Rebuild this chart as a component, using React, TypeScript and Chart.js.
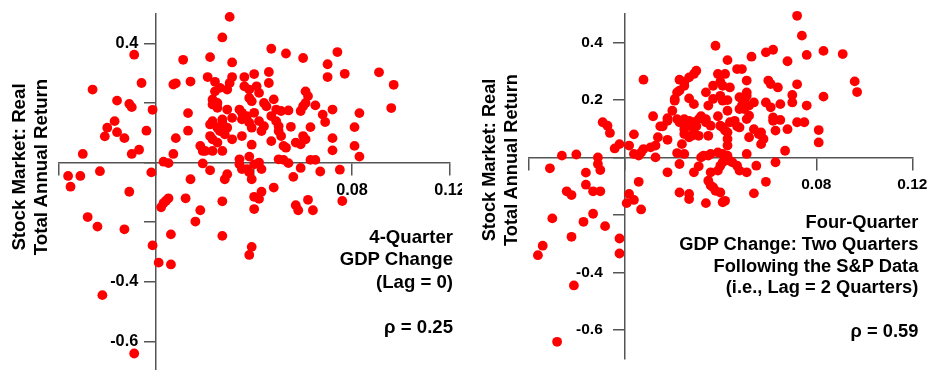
import React, { useEffect, useRef } from 'react';
import { Chart, registerables } from 'chart.js';

Chart.register(...registerables);

// ---- Left panel: 4-quarter GDP change (lag 0) vs. real stock return ----
const leftGdp = [
  -0.009, -0.026, -0.006, -0.016, -0.011, -0.010, -0.0015, -0.017, -0.020, -0.016,
  -0.021, -0.013, -0.004, -0.030, -0.010, -0.007, -0.036, -0.031, -0.035, -0.023,
  -0.002, -0.011, -0.028, -0.024, -0.013, -0.0015, -0.022, -0.009,
  0.011, 0.007, 0.008, 0.014, 0.021, 0.022, 0.027, 0.030, 0.031, 0.013,
  0.013, 0.008, 0.007, 0.003, 0.005,
  0.047, 0.053, 0.060, 0.074, 0.070, 0.070, 0.046, 0.046, 0.040, 0.036,
  0.031, 0.091, 0.097, 0.077,
  0.024, 0.026, 0.024, 0.029, 0.030, 0.036, 0.038, 0.041, 0.042, 0.061,
  0.062, 0.023, 0.025, 0.023, 0.025, 0.029, 0.034, 0.035, 0.038, 0.039,
  0.040, 0.044, 0.045, 0.048, 0.049, 0.051, 0.054, 0.060, 0.061, 0.059,
  0.065, 0.068, 0.069, 0.072, 0.023, 0.022, 0.027, 0.027, 0.025, 0.026,
  0.029, 0.031, 0.035, 0.037, 0.038, 0.039, 0.042, 0.044, 0.043, 0.047,
  0.049, 0.050, 0.050, 0.051, 0.055, 0.063, 0.060, 0.022, 0.023, 0.028,
  0.031, 0.035, 0.072, 0.018, 0.019, 0.020, 0.023, 0.025, 0.027, 0.039,
  0.047, 0.052, 0.053, 0.057, 0.059, 0.061, 0.072, 0.019, 0.022, 0.034,
  0.034, 0.035, 0.038, 0.040, 0.042, 0.043, 0.037, 0.038, 0.050, 0.052,
  0.054, 0.059, 0.063, 0.065, 0.067, 0.056, 0.029, 0.028, 0.014, 0.039,
  0.048, 0.081, 0.083, 0.081, 0.083, 0.096, 0.075, 0.076,
  0.005, 0.004, 0.003, 0.002, 0.012, 0.018, 0.016, 0.006, 0.027, 0.027,
  0.039, 0.038, 0.040, 0.040, 0.042, 0.043, 0.057, 0.058, 0.062, 0.064,
  0.001, 0.006,
];
const leftReturn = [
  0.362, 0.245, 0.267, 0.208, 0.197, 0.186, 0.177, 0.139, 0.117, 0.102,
  0.088, 0.082, 0.107, 0.029, 0.029, 0.043, -0.045, -0.045, -0.081, -0.029,
  -0.033, -0.098, -0.183, -0.215, -0.224, -0.278, -0.445, -0.641,
  0.345, 0.262, 0.266, 0.272, 0.287, 0.354, 0.420, 0.489, 0.336, 0.166,
  0.107, 0.082, 0.029, 0.003, -0.002,
  0.382, 0.366, 0.351, 0.371, 0.330, 0.287, 0.304, 0.267, 0.297, 0.287,
  0.287, 0.303, 0.261, 0.298,
  0.271, 0.251, 0.239, 0.245, 0.267, 0.256, 0.245, 0.256, 0.234, 0.239,
  0.223, 0.212, 0.200, 0.195, 0.184, 0.178, 0.178, 0.167, 0.217, 0.206,
  0.167, 0.200, 0.189, 0.212, 0.178, 0.173, 0.175, 0.189, 0.200, 0.173,
  0.192, 0.161, 0.136, 0.178, 0.139, 0.128, 0.145, 0.134, 0.117, 0.106,
  0.117, 0.150, 0.145, 0.156, 0.134, 0.117, 0.139, 0.122, 0.106, 0.156,
  0.139, 0.122, 0.106, 0.089, 0.120, 0.119, 0.089, 0.089, 0.078, 0.095,
  0.078, 0.089, 0.082, 0.056, 0.039, 0.039, 0.039, 0.067, 0.039, 0.060,
  0.072, 0.056, 0.050, 0.067, 0.061, 0.078, 0.041, -0.003, -0.026, 0.011,
  -0.006, -0.022, 0.020, -0.006, 0.000, -0.022, -0.022, -0.033, 0.011, 0.009,
  -0.002, -0.018, 0.009, 0.009, -0.030, -0.048, -0.039, -0.056, -0.056, -0.056,
  -0.084, 0.119, 0.166, 0.056, 0.020, 0.183, -0.024, -0.129,
  -0.120, -0.128, -0.136, -0.150, -0.120, -0.160, -0.198, -0.241, -0.246, -0.130,
  -0.283, -0.310, -0.156, -0.115, -0.122, -0.098, -0.143, -0.160, -0.125, -0.160,
  -0.336, -0.342,
];

// ---- Right panel: GDP change two quarters after the S&P data (lag 2) ----
const rightGdp = [
  -0.036, -0.034, -0.030, -0.022, -0.017, -0.013, -0.008, -0.021, -0.028, -0.002,
  -0.002, -0.031, -0.026, -0.020, -0.016, -0.016, -0.011, -0.011, -0.010, -0.009,
  -0.007, -0.006, -0.004, -0.002, -0.024, -0.022, -0.013, -0.010, 0.002, 0.001,
  0.004, 0.007, 0.006, 0.008, 0.004, 0.002, 0.004, 0.006, 0.007, 0.008,
  0.011, 0.013, 0.013, 0.012,
  0.038, 0.043, 0.053, 0.059, 0.062, 0.068, 0.076, 0.074, 0.072, 0.083,
  0.091, 0.096, 0.097, 0.083, 0.047, 0.049, 0.030, 0.029, 0.023, 0.025,
  0.027, 0.039, 0.042, 0.040, 0.041, 0.037, 0.044, 0.051, 0.060, 0.061,
  0.064, 0.072, 0.076, 0.081, 0.081, 0.025, 0.023, 0.022, 0.021, 0.021,
  0.027, 0.029, 0.035, 0.034, 0.040, 0.041, 0.043, 0.037, 0.043, 0.048,
  0.050, 0.051, 0.051, 0.048, 0.049, 0.050, 0.052, 0.054, 0.052, 0.051,
  0.059, 0.061, 0.065, 0.062, 0.062, 0.065, 0.070, 0.070, 0.020, 0.018,
  0.018, 0.015, 0.016, 0.014, 0.018, 0.022, 0.023, 0.025, 0.026, 0.027,
  0.028, 0.029, 0.030, 0.031, 0.025, 0.025, 0.027, 0.028, 0.029, 0.031,
  0.032, 0.034, 0.034, 0.036, 0.035, 0.039, 0.040, 0.041, 0.042, 0.043,
  0.044, 0.043, 0.043, 0.046, 0.047, 0.048, 0.054, 0.056, 0.057, 0.058,
  0.057, 0.052, 0.063, 0.067, 0.068, 0.072, 0.075, 0.024, 0.022, 0.025,
  0.032, 0.033, 0.035, 0.036, 0.039, 0.041, 0.042, 0.043, 0.051, 0.063,
  0.018, 0.023, 0.029, 0.031, 0.036, 0.039, 0.040, 0.041, 0.044, 0.045,
  0.047, 0.048, 0.051, 0.055, 0.059, 0.035, 0.036, 0.037, 0.038, 0.040,
  0.023, 0.027, 0.027, 0.034, 0.041, 0.042, 0.054,
];
const rightReturn = [
  -0.340, -0.307, -0.212, -0.276, -0.224, -0.196, -0.239, -0.445, -0.641, -0.282,
  -0.334, -0.038, 0.006, 0.010, -0.053, -0.095, 0.000, -0.023, -0.044, 0.122,
  0.110, 0.085, 0.031, 0.046, -0.118, -0.131, -0.118, -0.118, -0.127, -0.159,
  -0.148, -0.181, -0.085, 0.270, 0.080, 0.041, 0.012, 0.006, 0.017, 0.029,
  0.035, 0.041, 0.000, 0.143,
  0.388, 0.338, 0.350, 0.365, 0.374, 0.334, 0.356, 0.423, 0.492, 0.370,
  0.359, 0.264, 0.227, 0.211, 0.307, 0.307, 0.301, 0.290, 0.270, 0.261,
  0.278, 0.290, 0.290, 0.263, 0.249, 0.249, 0.243, 0.267, 0.267, 0.255,
  0.243, 0.254, 0.180, 0.095, 0.052, 0.249, 0.232, 0.226, 0.203, 0.197,
  0.205, 0.185, 0.180, 0.226, 0.214, 0.197, 0.199, 0.203, 0.162, 0.209,
  0.197, 0.226, 0.214, 0.168, 0.180, 0.168, 0.180, 0.191, 0.145, 0.133,
  0.191, 0.174, 0.185, 0.139, 0.127, 0.130, 0.217, 0.191, 0.162, 0.136,
  0.127, 0.108, 0.108, 0.070, 0.061, 0.133, 0.122, 0.133, 0.116, 0.127,
  0.108, 0.122, 0.108, 0.133, 0.098, 0.081, 0.070, 0.075, 0.087, 0.075,
  0.143, 0.133, 0.122, 0.110, 0.075, 0.143, 0.110, 0.104, 0.093, 0.087,
  0.122, 0.064, 0.041, 0.127, 0.108, 0.104, 0.098, 0.081, 0.087, 0.064,
  0.046, 0.070, 0.093, 0.023, 0.098, 0.122, 0.122, 0.046, 0.015, 0.012,
  0.000, 0.006, 0.006, 0.012, 0.017, 0.012, 0.006, 0.006, 0.012, -0.017,
  -0.052, -0.023, -0.052, -0.031, -0.052, -0.046, -0.029, -0.017, -0.012, -0.017,
  -0.029, -0.046, -0.052, -0.029, -0.085, -0.081, -0.098, -0.104, -0.116, -0.122,
  -0.122, -0.127, -0.145, -0.159, -0.156, -0.151, -0.125,
];

// ---- Axis ticks ----
const xTicks = [-0.04, 0, 0.04, 0.08, 0.12];
const xTickLabels = ['', '', '', '0.08', '0.12'];
const yTicks = [0.4, 0.2, 0, -0.2, -0.4, -0.6];
const leftYTickLabels = ['0.4', '', '', '', '-0.4', '-0.6'];
const rightYTickLabels = ['0.4', '0.2', '', '', '-0.4', '-0.6'];

const FONT = "'Liberation Sans', Arial, Helvetica, sans-serif";
const AXIS_COLOR = '#555555';

// Draws the y tick labels to the left of the tick marks of the centred y axis
const yTickLabelPlugin = {
  id: 'yTickLabels',
  beforeDatasetsDraw(chart: any, _args: any, opts: any) {
    const yScale = chart.scales.y;
    const xScale = chart.scales.x;
    const axisX = xScale.getPixelForValue(0);
    const ctx = chart.ctx;
    ctx.save();
    ctx.font = `bold ${opts.size}px ${FONT}`;
    ctx.fillStyle = '#000';
    ctx.textAlign = 'right';
    ctx.textBaseline = 'middle';
    yScale.ticks.forEach((t: any, i: number) => {
      const label = opts.labels[i];
      if (label) ctx.fillText(label, axisX - opts.offset, yScale.getPixelForValue(t.value));
    });
    ctx.restore();
  },
};

type PanelProps = {
  xs: number[];
  ys: number[];
  yLabels: string[];
  width: number;
  height: number;
  padding: { left: number; right: number; top: number; bottom: number };
  tickFont: number;
  yLabelOffset: number;
};

function ScatterPanel({ xs, ys, yLabels, width, height, padding, tickFont, yLabelOffset }: PanelProps) {
  const ref = useRef<HTMLCanvasElement | null>(null);
  useEffect(() => {
    if (!ref.current) return;
    const zeroPad = (s: any) => {
      s.paddingLeft = 0;
      s.paddingRight = 0;
      s.paddingTop = 0;
      s.paddingBottom = 0;
    };
    const chart = new Chart(ref.current, {
      type: 'scatter',
      data: {
        datasets: [
          {
            data: xs.map((x, i) => ({ x, y: ys[i] })),
            backgroundColor: '#ff0000',
            borderWidth: 0,
            pointRadius: 4.9,
            pointHoverRadius: 4.9,
            clip: false as any,
          },
        ],
      },
      plugins: [yTickLabelPlugin],
      options: {
        responsive: false,
        maintainAspectRatio: false,
        animation: false,
        events: [],
        layout: { padding },
        plugins: {
          legend: { display: false },
          tooltip: { enabled: false },
          yTickLabels: { labels: yLabels, size: tickFont, offset: yLabelOffset },
        },
        scales: {
          x: {
            type: 'linear',
            min: -0.04,
            max: 0.12,
            position: { y: 0 } as any,
            afterBuildTicks: (s: any) => {
              s.ticks = xTicks.map((v) => ({ value: v }));
            },
            afterFit: zeroPad,
            grid: { drawOnChartArea: false, drawTicks: true, tickLength: 12, color: AXIS_COLOR, lineWidth: 1.5 },
            border: { display: true, color: AXIS_COLOR, width: 1.5 },
            ticks: {
              autoSkip: false,
              maxRotation: 0,
              padding: 6,
              color: '#000',
              font: { family: FONT, size: tickFont, weight: 'bold' },
              callback: (_v: any, i: number) => xTickLabels[i],
            },
          },
          y: {
            type: 'linear',
            min: -0.7,
            max: 0.5,
            position: { x: 0 } as any,
            afterBuildTicks: (s: any) => {
              s.ticks = yTicks.map((v) => ({ value: v }));
            },
            afterFit: zeroPad,
            grid: { drawOnChartArea: false, drawTicks: true, tickLength: 11, color: AXIS_COLOR, lineWidth: 1.5 },
            border: { display: true, color: AXIS_COLOR, width: 1.5 },
            ticks: { display: false },
          },
        },
      } as any,
    });
    return () => chart.destroy();
  }, []);
  return <canvas ref={ref} width={width} height={height} style={{ display: 'block', width, height }} />;
}

const textBase: React.CSSProperties = {
  position: 'absolute',
  fontFamily: FONT,
  fontWeight: 'bold',
  color: '#000',
  whiteSpace: 'nowrap',
};

function YTitle({ cx, cy, size }: { cx: number; cy: number; size: number }) {
  const w = 260;
  const h = 44;
  return (
    <div
      style={{
        ...textBase,
        left: cx - w / 2,
        top: cy - h / 2,
        width: w,
        height: h,
        fontSize: size,
        lineHeight: '22px',
        textAlign: 'center',
        transform: 'rotate(-90deg)',
      }}
    >
      <div>Stock Market: Real</div>
      <div>Total Annual Return</div>
    </div>
  );
}

export default function App() {
  return (
    <div
      style={{
        position: 'absolute',
        left: 0,
        top: 0,
        width: 927,
        height: 370,
        overflow: 'hidden',
        background: '#fff',
      }}
    >
      <div style={{ position: 'absolute', left: 0, top: 0 }}>
        <ScatterPanel
          xs={leftGdp}
          ys={leftReturn}
          yLabels={leftYTickLabels}
          width={462}
          height={376}
          padding={{ left: 58.3, right: 12, top: 13.6, bottom: 3.2 }}
          tickFont={16.3}
          yLabelOffset={18}
        />
      </div>
      <div style={{ position: 'absolute', left: 463, top: 0 }}>
        <ScatterPanel
          xs={rightGdp}
          ys={rightReturn}
          yLabels={rightYTickLabels}
          width={464}
          height={370}
          padding={{ left: 65.3, right: 14.7, top: 13.5, bottom: 11.2 }}
          tickFont={15.5}
          yLabelOffset={21.5}
        />
      </div>

      <YTitle cx={30} cy={167} size={18.7} />
      <YTitle cx={500} cy={160} size={18.2} />

      <div
        style={{
          ...textBase,
          right: 927 - 453,
          top: 225.75,
          fontSize: 18.6,
          lineHeight: '22.5px',
          textAlign: 'right',
        }}
      >
        <div>4-Quarter</div>
        <div>GDP Change</div>
        <div>(Lag = 0)</div>
        <div>&nbsp;</div>
        <div>ρ = 0.25</div>
      </div>

      <div
        style={{
          ...textBase,
          right: 927 - 918.3,
          top: 210.75,
          fontSize: 18.3,
          lineHeight: '21.9px',
          textAlign: 'right',
        }}
      >
        <div>Four-Quarter</div>
        <div>GDP Change: Two Quarters</div>
        <div>Following the S&amp;P Data</div>
        <div>(i.e., Lag = 2 Quarters)</div>
        <div>&nbsp;</div>
        <div>ρ = 0.59</div>
      </div>
    </div>
  );
}
